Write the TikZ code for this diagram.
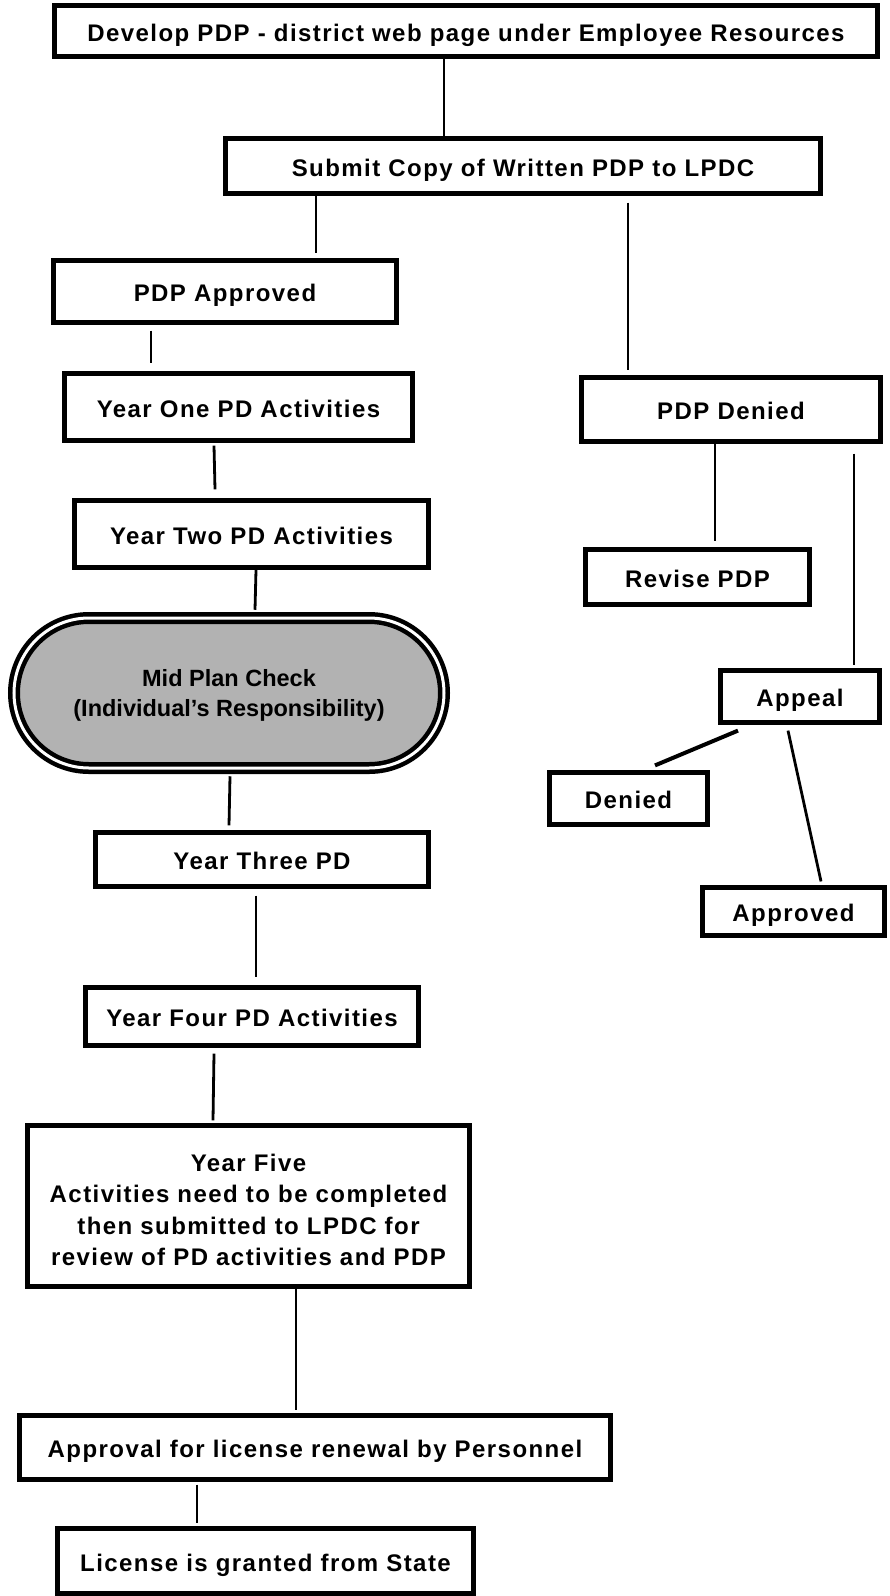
\documentclass[tikz,border=0pt]{standalone}
\usepackage{fontspec}
\setmainfont{Liberation Sans}
\newfontfamily\boxfont{Liberation Sans}[LetterSpace=6]
\newfontfamily\midfont{Liberation Sans}
\usetikzlibrary{shapes.misc}
\definecolor{midgray}{RGB}{178,178,178}
\tikzset{
  box/.style={draw, line width=5.2pt, rectangle, inner sep=0pt,
    font=\boxfont\bfseries\fontsize{24}{31.3}\selectfont,
    text height=20.2pt, text depth=0pt},
  multibox/.style={draw, line width=5.2pt, rectangle, inner sep=0pt, align=center,
    font=\boxfont\bfseries\fontsize{24}{31.3}\selectfont},
  midbox/.style={draw, rounded rectangle, fill=midgray, double=white,
    double distance=3pt, line width=4.5pt, inner sep=0pt, align=center,
    font=\midfont\bfseries\fontsize{23.5}{29.3}\selectfont},
  conn/.style={line width=2.8pt},
  thickconn/.style={line width=4pt}
}
\begin{document}
\begin{tikzpicture}[x=1pt, y=-1pt]
\path[use as bounding box, fill=white] (0,0) rectangle (890,1596);

\node[box, minimum width=823pt, minimum height=51pt] (dev) at (466,31) {Develop PDP - district web page under Employee Resources};
\node[box, minimum width=595pt, minimum height=55pt] (submit) at (523,166) {Submit Copy of Written PDP to LPDC};
\node[box, minimum width=343pt, minimum height=62pt] (appr) at (225,291.5) {PDP Approved};
\node[box, minimum width=348pt, minimum height=67pt] (one) at (238.5,407) {Year One PD Activities};
\node[box, minimum width=354pt, minimum height=67pt] (two) at (251.5,534) {Year Two PD Activities};
\node[midbox, minimum width=430pt, minimum height=150pt] (mid) at (229,693) {\rule{0pt}{22pt}Mid Plan Check\\(Individual’s Responsibility)};
\node[box, minimum width=333pt, minimum height=54pt] (three) at (262,859.5) {Year Three PD};
\node[box, minimum width=333pt, minimum height=58pt] (four) at (252,1016.5) {Year Four PD Activities};
\node[multibox, minimum width=442pt, minimum height=161pt] (five) at (248.5,1206) {\rule{0pt}{25pt}Year Five\\Activities need to be completed\\then submitted to LPDC for\\review of PD activities and PDP};
\node[box, minimum width=591pt, minimum height=64pt] (approval) at (315,1447.5) {Approval for license renewal by Personnel};
\node[box, minimum width=416pt, minimum height=65pt] (license) at (265.5,1561) {License is granted from State};

\node[box, minimum width=299pt, minimum height=64pt] (pdpden) at (731,409.5) {PDP Denied};
\node[box, minimum width=224pt, minimum height=55pt] (revise) at (697.5,577) {Revise PDP};
\node[box, minimum width=159pt, minimum height=52pt] (appeal) at (800,696.5) {Appeal};
\node[box, minimum width=158pt, minimum height=52pt] (denied) at (628.5,798.5) {Denied};
\node[box, minimum width=182pt, minimum height=48pt] (approved) at (793.5,911.5) {Approved};

\draw[conn] ([xshift=-22pt]dev.south) -- ([xshift=-79pt]submit.north);
\draw[conn] ([xshift=-207pt]submit.south) -- ([xshift=91pt,yshift=4.5pt]appr.north);
\draw[conn] ([xshift=105pt,yshift=-6.5pt]submit.south) -- ([xshift=-103pt,yshift=4.5pt]pdpden.north);
\draw[conn] ([xshift=-74pt,yshift=-5.5pt]appr.south) -- ([xshift=-87.5pt,yshift=7.5pt]one.north);
\draw[conn] ([xshift=-24.5pt,yshift=-2.5pt]one.south) -- ([xshift=-36.5pt,yshift=8.5pt]two.north);
\draw[conn] ([xshift=4.5pt]two.south) -- ([xshift=26pt,yshift=6pt]mid.north);
\draw[conn] ([xshift=1pt,yshift=-6pt]mid.south) -- ([xshift=-33pt,yshift=4.5pt]three.north);
\draw[conn] ([xshift=-6pt,yshift=-6.5pt]three.south) -- ([xshift=4pt,yshift=7.5pt]four.north);
\draw[conn] ([xshift=-38pt,yshift=-5.5pt]four.south) -- ([xshift=-35.5pt,yshift=2.5pt]five.north);
\draw[conn] ([xshift=47.5pt,yshift=3.5pt]five.south) -- ([xshift=-19pt,yshift=2.5pt]approval.north);
\draw[conn] ([xshift=-118pt,yshift=-2.5pt]approval.south) -- ([xshift=-68.5pt,yshift=2.5pt]license.north);
\draw[conn] ([xshift=-16pt]pdpden.south) -- ([xshift=17.5pt,yshift=5.5pt]revise.north);
\draw[conn] ([xshift=123pt,yshift=-9.5pt]pdpden.south) -- ([xshift=54pt,yshift=2.5pt]appeal.north);
\draw[thickconn] ([xshift=-62pt,yshift=-5.5pt]appeal.south) -- ([xshift=26.5pt,yshift=4.5pt]denied.north);
\draw[conn] ([xshift=-12pt,yshift=-5.5pt]appeal.south) -- ([xshift=27.5pt,yshift=3.5pt]approved.north);
\end{tikzpicture}
\end{document}
